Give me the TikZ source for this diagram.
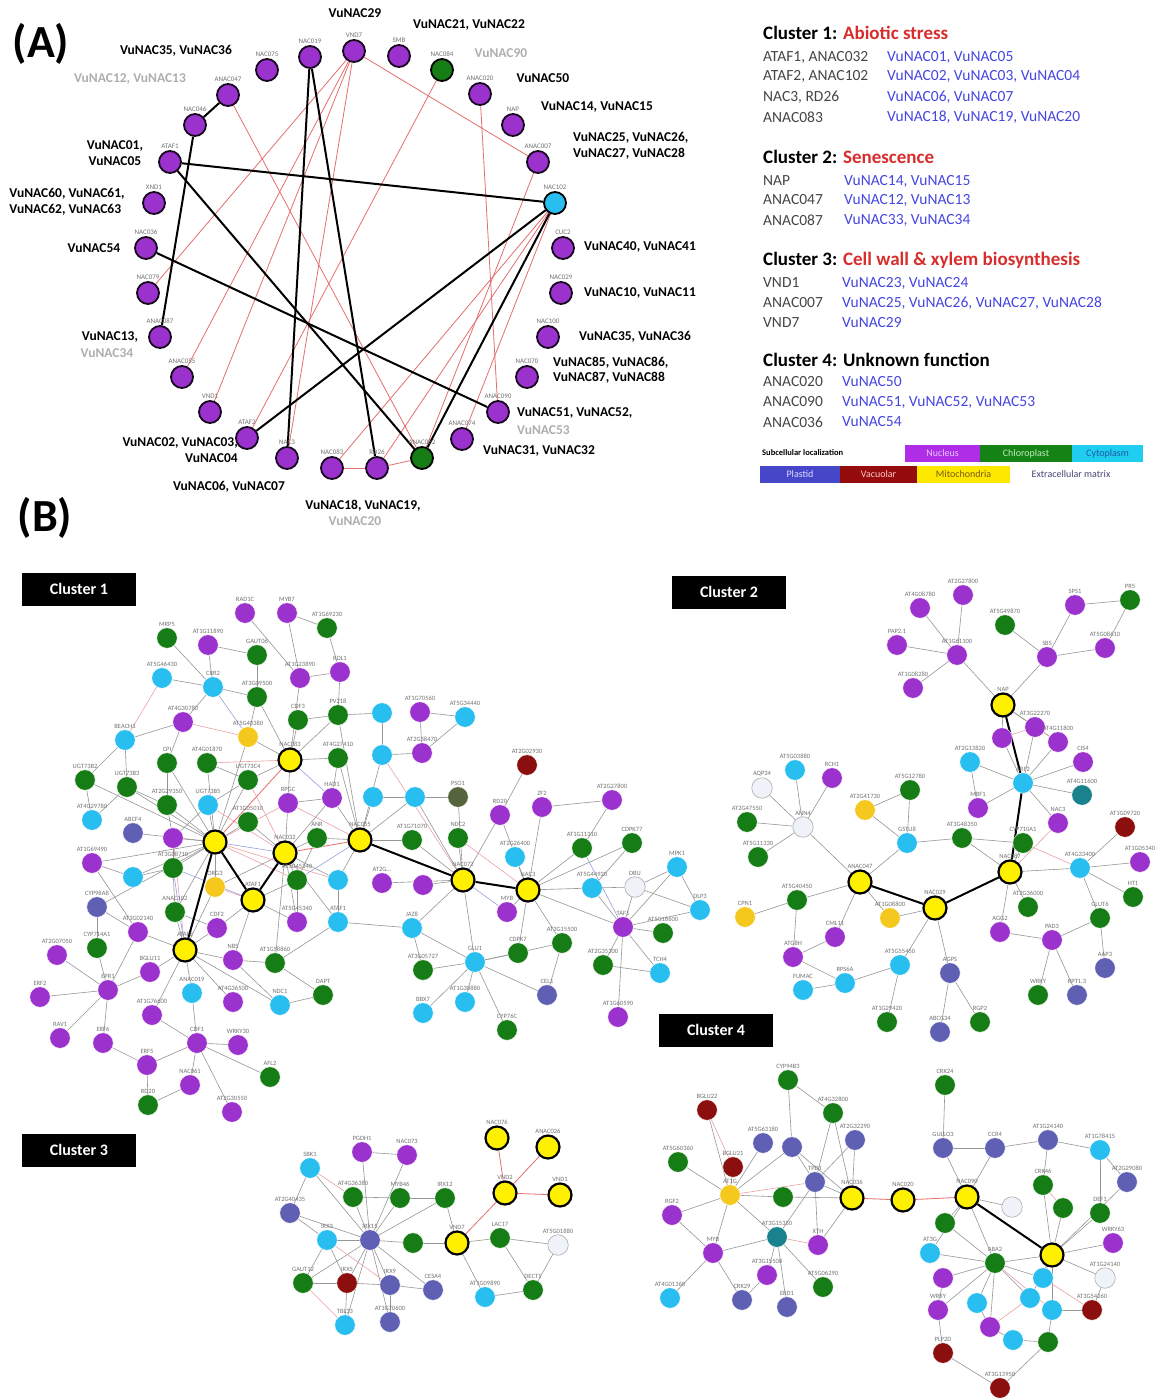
\documentclass[tikz,border=0pt]{standalone}
\usepackage{fontspec}
\setmainfont{Carlito}
\pgfdeclarelayer{bg}
\pgfdeclarelayer{edges}
\pgfsetlayers{bg,edges,main}
\definecolor{cnuc}{RGB}{155,50,205}
\definecolor{cchl}{RGB}{22,125,22}
\definecolor{ccyt}{RGB}{40,190,240}
\definecolor{cpla}{RGB}{95,95,180}
\definecolor{cvac}{RGB}{140,15,15}
\definecolor{cmit}{RGB}{245,200,30}
\definecolor{cqry}{RGB}{255,240,0}
\definecolor{cext}{RGB}{240,242,250}
\definecolor{ctea}{RGB}{25,130,140}
\definecolor{coli}{RGB}{85,100,60}
\definecolor{cblue}{RGB}{70,70,225}
\definecolor{cred}{RGB}{215,45,45}
\definecolor{credge}{RGB}{230,110,110}
\definecolor{cpink}{RGB}{235,160,165}
\definecolor{clblue}{RGB}{150,160,225}
\definecolor{clbl}{RGB}{115,115,115}
\definecolor{cgrey}{RGB}{175,175,175}
\definecolor{cedge}{RGB}{150,150,150}
\definecolor{ltext}{RGB}{70,70,70}
\tikzset{
 nd/.style={circle,inner sep=0pt,minimum size=20.5pt,draw=white,line width=0.4pt},
 nuc/.style={nd,fill=cnuc}, chl/.style={nd,fill=cchl}, cyt/.style={nd,fill=ccyt},
 pla/.style={nd,fill=cpla}, vac/.style={nd,fill=cvac}, mit/.style={nd,fill=cmit},
 ext/.style={nd,fill=cext,draw=cgrey,line width=0.6pt}, tea/.style={nd,fill=ctea}, oli/.style={nd,fill=coli},
 qry/.style={circle,inner sep=0pt,minimum size=23pt,fill=cqry,draw=black,line width=2.2pt},
 pa/.style={circle,inner sep=0pt,minimum size=22pt,draw=black!85!cnuc,line width=1.8pt},
 pnuc/.style={pa,fill=cnuc}, pchl/.style={pa,fill=cchl,draw=black}, pcyt/.style={pa,fill=ccyt,draw=black},
 lbl/.style={font=\fontsize{6.5}{7}\selectfont,text=clbl,inner sep=0.5pt},
 albl/.style={font=\fontsize{7}{8}\selectfont,text=clbl,inner sep=1pt},
 vb/.style={font=\bfseries\fontsize{13.5}{15.5}\selectfont,inner sep=0pt},
 vg/.style={vb,text=cgrey},
 ge/.style={draw=cedge,line width=0.6pt},
 pe/.style={draw=cpink,line width=0.6pt},
 lb/.style={draw=clblue,line width=0.6pt},
 re/.style={draw=credge,line width=0.8pt},
 be/.style={draw=black,line width=2pt},
 clbox/.style={fill=black,text=white,font=\bfseries\fontsize{16}{16}\selectfont,minimum width=114pt,minimum height=33pt,inner sep=0pt},
 lh/.style={anchor=west,font=\bfseries\fontsize{19}{19}\selectfont,inner sep=0pt},
 lt/.style={anchor=west,font=\fontsize{15.5}{15.5}\selectfont,text=ltext,inner sep=0pt},
 lv/.style={lt,text=cblue},
 lbox/.style={font=\fontsize{10}{10}\selectfont,inner sep=0pt,minimum height=17pt}
}
\newcommand\mkgn[5]{\node[#2,label={[lbl]90:#5}] (#1) at (#3,#4) {};}
\newcommand\mkpa[5]{\node[#2,label={[albl]90:#5}] (#1) at (#3,#4) {};}
\begin{document}
\begin{tikzpicture}[x=1pt,y=-1pt]
\begin{pgfonlayer}{bg}
\fill[white] (0,0) rectangle (1173,1399);
\end{pgfonlayer}
\useasboundingbox (0,0) rectangle (1173,1399);

% ---------- panel labels ----------
\node[font=\bfseries\fontsize{46}{46}\selectfont,inner sep=0pt] (pA) at (41,44) {(A)};
\node[font=\bfseries\fontsize{46}{46}\selectfont,inner sep=0pt] (pB) at (45,518) {(B)};

% ---------- panel A nodes ----------
\mkpa{p1}{pnuc}{310}{57}{NAC019}
\mkpa{p2}{pnuc}{354}{51}{VND7}
\mkpa{p3}{pnuc}{399}{56}{SMB}
\mkpa{p4}{pchl}{442}{70}{NAC084}
\mkpa{p5}{pnuc}{480}{94}{ANAC020}
\mkpa{p6}{pnuc}{513}{125}{NAP}
\mkpa{p7}{pnuc}{538}{162}{ANAC007}
\mkpa{p8}{pcyt}{555}{203}{NAC102}
\mkpa{p9}{pnuc}{563}{248}{CUC2}
\mkpa{p10}{pnuc}{561}{293}{NAC029}
\mkpa{p11}{pnuc}{548}{337}{NAC100}
\mkpa{p12}{pnuc}{527}{377}{NAC070}
\mkpa{p13}{pnuc}{498}{412}{ANAC090}
\mkpa{p14}{pnuc}{462}{439}{ANAC074}
\mkpa{p15}{pchl}{422}{458}{ANAC082}
\mkpa{p16}{pnuc}{377}{468}{RD26}
\mkpa{p17}{pnuc}{332}{468}{NAC083}
\mkpa{p18}{pnuc}{287}{458}{NAC3}
\mkpa{p19}{pnuc}{247}{438}{ATAF2}
\mkpa{p20}{pnuc}{210}{412}{VND1}
\mkpa{p21}{pnuc}{182}{377}{ANAC055}
\mkpa{p22}{pnuc}{160}{337}{ANAC087}
\mkpa{p23}{pnuc}{148}{293}{NAC079}
\mkpa{p24}{pnuc}{146}{248}{NAC036}
\mkpa{p25}{pnuc}{154}{203}{XND1}
\mkpa{p26}{pnuc}{170}{162}{ATAF1}
\mkpa{p27}{pnuc}{195}{125}{NAC046}
\mkpa{p28}{pnuc}{228}{95}{ANAC047}
\mkpa{p29}{pnuc}{267}{70}{NAC075}

\begin{pgfonlayer}{edges}
\foreach \a/\b in {p2/p7,p2/p23,p2/p20,p2/p21,p2/p18,p19/p4,p17/p16,p16/p15,p28/p15,p5/p13,p7/p15,p17/p8,p16/p8,p14/p8}
  \draw[re] (\a) -- (\b);
\foreach \a/\b in {p26/p8,p26/p15,p27/p22,p27/p28,p1/p18,p1/p16,p24/p13,p19/p8,p15/p8}
  \draw[be] (\a) -- (\b);
\end{pgfonlayer}

% ---------- panel A gene labels ----------
\node[vb] (t1) at (176,51) {VuNAC35, VuNAC36};
\node[vg] (t2) at (130,79) {VuNAC12, VuNAC13};
\node[vb,align=center] (t3) at (115,153) {VuNAC01,\\VuNAC05};
\node[vb,align=left] (t4) at (67,202) {VuNAC60, VuNAC61,\\VuNAC62, VuNAC63};
\node[vb] (t5) at (94,248) {VuNAC54};
\node[vb] (t6) at (110,337) {VuNAC13,};
\node[vg] (t6b) at (107,353) {VuNAC34};
\node[vb,align=right,anchor=east] (t7) at (238,450) {VuNAC02, VuNAC03,\\VuNAC04};
\node[vb] (t8) at (229,487) {VuNAC06, VuNAC07};
\node[vb] (t9) at (363,506) {VuNAC18, VuNAC19,};
\node[vg] (t9b) at (355,521) {VuNAC20};
\node[vb] (t10) at (539,451) {VuNAC31, VuNAC32};
\node[vb,anchor=west] (t11) at (517,413) {VuNAC51, VuNAC52,};
\node[vg,anchor=west] (t11b) at (517,430) {VuNAC53};
\node[vb,align=left,anchor=west] (t12) at (553,370) {VuNAC85, VuNAC86,\\VuNAC87, VuNAC88};
\node[vb] (t13) at (635,337) {VuNAC35, VuNAC36};
\node[vb] (t14) at (640,293) {VuNAC10, VuNAC11};
\node[vb] (t15) at (640,247) {VuNAC40, VuNAC41};
\node[vb,align=left,anchor=west] (t16) at (573,146) {VuNAC25, VuNAC26,\\VuNAC27, VuNAC28};
\node[vb] (t17) at (597,107) {VuNAC14, VuNAC15};
\node[vb] (t18) at (543,78) {VuNAC50};
\node[vg] (t19) at (501,53) {VuNAC90};
\node[vb] (t20) at (469,25) {VuNAC21, VuNAC22};
\node[vb] (t21) at (355,13) {VuNAC29};

% ---------- legend ----------
\node[lh] (h1) at (763,33) {Cluster 1: \textcolor{cred}{Abiotic stress}};
\node[lt] (l11) at (763,57) {ATAF1, ANAC032};  \node[lv] (v11) at (887,57) {VuNAC01, VuNAC05};
\node[lt] (l12) at (763,76) {ATAF2, ANAC102};  \node[lv] (v12) at (887,76) {VuNAC02, VuNAC03, VuNAC04};
\node[lt] (l13) at (763,97) {NAC3, RD26};      \node[lv] (v13) at (887,97) {VuNAC06, VuNAC07};
\node[lt] (l14) at (763,117) {ANAC083};        \node[lv] (v14) at (887,117) {VuNAC18, VuNAC19, VuNAC20};
\node[lh] (h2) at (763,157) {Cluster 2: \textcolor{cred}{Senescence}};
\node[lt] (l21) at (763,181) {NAP};            \node[lv] (v21) at (844,181) {VuNAC14, VuNAC15};
\node[lt] (l22) at (763,200) {ANAC047};        \node[lv] (v22) at (844,200) {VuNAC12, VuNAC13};
\node[lt] (l23) at (763,220) {ANAC087};        \node[lv] (v23) at (844,220) {VuNAC33, VuNAC34};
\node[lh] (h3) at (763,260) {Cluster 3: \textcolor{cred}{Cell wall \& xylem biosynthesis}};
\node[lt] (l31) at (763,283) {VND1};           \node[lv] (v31) at (842,283) {VuNAC23, VuNAC24};
\node[lt] (l32) at (763,303) {ANAC007};        \node[lv] (v32) at (842,303) {VuNAC25, VuNAC26, VuNAC27, VuNAC28};
\node[lt] (l33) at (763,323) {VND7};           \node[lv] (v33) at (842,323) {VuNAC29};
\node[lh] (h4) at (763,360) {Cluster 4: Unknown function};
\node[lt] (l41) at (763,382) {ANAC020};        \node[lv] (v41) at (842,382) {VuNAC50};
\node[lt] (l42) at (763,402) {ANAC090};        \node[lv] (v42) at (842,402) {VuNAC51, VuNAC52, VuNAC53};
\node[lt] (l43) at (763,422) {ANAC036};        \node[lv] (v43) at (842,422) {VuNAC54};
\node[anchor=west,font=\bfseries\fontsize{8.5}{8.5}\selectfont,inner sep=0pt] (sl) at (762,453) {Subcellular localization};
\node[lbox,fill={rgb,255:red,175;green,45;blue,230},text={rgb,255:red,230;green,200;blue,255},minimum width=75pt] (bx1) at (942.5,453.5) {Nucleus};
\node[lbox,fill={rgb,255:red,20;green,130;blue,20},text={rgb,255:red,190;green,235;blue,190},minimum width=92pt] (bx2) at (1026,453.5) {Chloroplast};
\node[lbox,fill={rgb,255:red,30;green,205;blue,240},text={rgb,255:red,30;green,90;blue,160},minimum width=71pt] (bx3) at (1107.5,453.5) {Cytoplasm};
\node[lbox,fill={rgb,255:red,70;green,70;blue,200},text={rgb,255:red,220;green,220;blue,255},minimum width=80pt] (bx4) at (800,474) {Plastid};
\node[lbox,fill={rgb,255:red,150;green,12;blue,12},text={rgb,255:red,255;green,200;blue,200},minimum width=77pt] (bx5) at (878.5,474) {Vacuolar};
\node[lbox,fill={rgb,255:red,255;green,232;blue,0},text={rgb,255:red,120;green,90;blue,20},minimum width=93pt] (bx6) at (963.5,474) {Mitochondria};
\node[lbox,text={rgb,255:red,70;green,70;blue,120}] (bx7) at (1071,474) {Extracellular matrix};

% ---------- cluster boxes ----------
\node[clbox] (k1) at (79,589) {Cluster 1};
\node[clbox] (k2) at (729,592) {Cluster 2};
\node[clbox] (k4) at (716,1030) {Cluster 4};
\node[clbox] (k3) at (79,1150) {Cluster 3};

% ---------- cluster 1 ----------
\mkgn{a1}{nuc}{245}{613}{RAD1C}
\mkgn{a2}{nuc}{287}{613}{MYB7}
\mkgn{a3}{chl}{327}{628}{AT1G69230}
\mkgn{a4}{chl}{167}{638}{MRP5}
\mkgn{a5}{nuc}{208}{645}{AT1G11890}
\mkgn{a6}{chl}{257}{655}{GAUT06}
\mkgn{a7}{cyt}{162}{678}{AT5G46430}
\mkgn{a8}{cyt}{213}{687}{CRR2}
\mkgn{a9}{nuc}{300}{678}{AT1G23890}
\mkgn{a10}{nuc}{340}{672}{RDL1}
\mkgn{a11}{chl}{257}{697}{AT3G09500}
\mkgn{a12}{nuc}{183}{722}{AT4G30780}
\mkgn{a13}{cyt}{125}{740}{BEACH1}
\mkgn{a14}{mit}{248}{737}{AT5G40380}
\mkgn{a15}{chl}{298}{720}{CDF3}
\mkgn{a16}{chl}{338}{715}{PV218}
\mkgn{a17}{qry}{290}{760}{NAC083}
\mkgn{a18}{chl}{338}{758}{AT4G27410}
\mkgn{a19}{chl}{167}{763}{CPI}
\mkgn{a20}{chl}{207}{763}{AT4G01870}
\mkgn{a21}{chl}{85}{780}{UGT73B2}
\mkgn{a22}{chl}{127}{787}{UGT73B3}
\mkgn{a23}{chl}{248}{780}{UGT73C4}
\mkgn{a24}{chl}{167}{805}{AT2G29350}
\mkgn{a25}{cyt}{208}{805}{UGT73B5}
\mkgn{a26}{nuc}{288}{803}{RPGC}
\mkgn{a27}{nuc}{332}{798}{HAD1}
\mkgn{a28}{cyt}{92}{820}{AT4G29780}
\mkgn{a29}{pla}{133}{833}{ABCF4}
\mkgn{a30}{chl}{248}{822}{AT1G05010}
\mkgn{a31}{nuc}{173}{838}{}
\mkgn{a32}{chl}{317}{838}{ANR}
\mkgn{a33}{qry}{215}{842}{}
\mkgn{a34}{qry}{285}{853}{NAC032}
\mkgn{a35}{qry}{360}{840}{NAC055}
\mkgn{a36}{nuc}{92}{863}{AT1G69490}
\mkgn{a37}{cyt}{133}{877}{}
\mkgn{a38}{chl}{173}{868}{AT3G08710}
\mkgn{a39}{mit}{215}{887}{ORG3}
\mkgn{a40}{chl}{297}{880}{AT5G45340}
\mkgn{a41}{cyt}{338}{880}{}
\mkgn{a42}{pla}{97}{907}{CYP98A8}
\mkgn{a43}{chl}{175}{912}{ANAC102}
\mkgn{a44}{qry}{253}{900}{ATAF1}
\mkgn{a45}{nuc}{217}{928}{CDF2}
\mkgn{a46}{nuc}{297}{922}{AT5G45340}
\mkgn{a47}{cyt}{338}{922}{ATAF1}
\mkgn{a48}{nuc}{138}{932}{AT3G02140}
\mkgn{a49}{chl}{97}{948}{CYP714A1}
\mkgn{a50}{nuc}{57}{955}{AT2G07050}
\mkgn{a51}{qry}{185}{950}{ATAF2}
\mkgn{a52}{nuc}{233}{960}{NBS}
\mkgn{a53}{chl}{275}{963}{AT1G58860}
\mkgn{a54}{nuc}{150}{972}{BGLU11}
\mkgn{a55}{nuc}{108}{990}{EPR1}
\mkgn{a56}{nuc}{40}{997}{ERF2}
\mkgn{a57}{cyt}{192}{993}{ANAC019}
\mkgn{a58}{nuc}{233}{1002}{AT4G36500}
\mkgn{a59}{cyt}{280}{1005}{NDC1}
\mkgn{a60}{chl}{323}{995}{DAPT}
\mkgn{a61}{nuc}{152}{1015}{AT1G76600}
\mkgn{a62}{nuc}{60}{1038}{RAV1}
\mkgn{a63}{nuc}{103}{1043}{ERF6}
\mkgn{a64}{nuc}{197}{1043}{CDF1}
\mkgn{a65}{nuc}{238}{1045}{WRKY30}
\mkgn{a66}{nuc}{147}{1065}{ERF5}
\mkgn{a67}{nuc}{190}{1085}{NAC061}
\mkgn{a68}{chl}{270}{1077}{AFL2}
\mkgn{a69}{chl}{148}{1105}{RD20}
\mkgn{a70}{nuc}{232}{1112}{AT2G30550}
\mkgn{b1}{cyt}{382}{713}{}
\mkgn{b2}{nuc}{420}{712}{AT1G70560}
\mkgn{b3}{cyt}{465}{717}{AT5G34440}
\mkgn{b4}{cyt}{382}{755}{}
\mkgn{b5}{nuc}{422}{753}{AT2G38470}
\mkgn{b6}{cyt}{373}{797}{}
\mkgn{b7}{cyt}{415}{797}{}
\mkgn{b8}{oli}{458}{797}{PSO1}
\mkgn{b9}{vac}{527}{765}{AT2G02930}
\mkgn{b10}{nuc}{500}{815}{RD20}
\mkgn{b11}{nuc}{542}{807}{ZF2}
\mkgn{b12}{nuc}{612}{800}{AT2G27800}
\mkgn{b13}{chl}{412}{840}{AT1G71070}
\mkgn{b14}{chl}{458}{838}{NDC2}
\mkgn{b15}{cyt}{515}{857}{AT2G26400}
\mkgn{b16}{chl}{582}{848}{AT1G11310}
\mkgn{b17}{chl}{632}{843}{CDPK77}
\mkgn{b18}{cyt}{677}{867}{MPK1}
\mkgn{b19}{ext}{635}{887}{DBU}
\mkgn{b20}{cyt}{700}{910}{DLP3}
\mkgn{b21}{nuc}{382}{883}{AT2G...}
\mkgn{b22}{nuc}{423}{885}{}
\mkgn{b23}{qry}{463}{880}{NAC072}
\mkgn{b24}{qry}{528}{890}{NAC3}
\mkgn{b25}{cyt}{592}{888}{AT5G44920}
\mkgn{b26}{nuc}{507}{912}{MYB}
\mkgn{b27}{nuc}{623}{927}{TAF1}
\mkgn{b28}{chl}{663}{933}{AT5G18600}
\mkgn{b29}{cyt}{412}{928}{JAZ8}
\mkgn{b30}{chl}{562}{943}{AT3G15500}
\mkgn{b31}{chl}{518}{953}{CDPK7}
\mkgn{b32}{cyt}{475}{962}{GLU1}
\mkgn{b33}{chl}{423}{970}{AT3G05727}
\mkgn{b34}{chl}{603}{965}{AT2G35300}
\mkgn{b35}{cyt}{660}{973}{TCH4}
\mkgn{b36}{pla}{547}{995}{CEL1}
\mkgn{b37}{cyt}{465}{1002}{AT1G30880}
\mkgn{b38}{cyt}{423}{1013}{BBX7}
\mkgn{b39}{nuc}{618}{1017}{AT1G60590}
\mkgn{b40}{chl}{507}{1030}{CYP76C}

\begin{pgfonlayer}{edges}
\foreach \a/\b in {a1/a9,a2/a9,a2/a3,a3/a10,a9/a10,a4/a8,a5/a8,a7/a8,a5/a6,a6/a11,a8/a12,a8/a11,a12/a13,a12/a19,a13/a22,a11/a14,a9/a17,a10/a16,a15/a17,a14/a17,a16/a17,a17/a18,a17/a26,a17/a23,a11/a17,a15/a16,a13/a21,
 a33/a19,a33/a20,a33/a23,a33/a24,a33/a25,a33/a30,a33/a31,a33/a38,a33/a39,a33/a43,a33/a22,a33/a21,a33/a14,a33/a29,a33/a37,a33/a36,a33/a42,
 a34/a26,a34/a27,a34/a32,a34/a40,a34/a41,a34/a47,a34/a46,a34/a30,a34/a39,a34/a53,
 a35/a18,a35/a32,a35/b6,a35/b7,a35/b13,a35/a16,a35/a27,a35/b4,a35/a41,
 b1/b4,b2/b5,b3/b5,b1/a16,b4/b5,b2/b3,b6/b7,b7/b8,
 a51/a54,a51/a57,a51/a52,a51/a58,a51/a59,a51/a61,a51/a43,a51/a45,a51/a48,a51/a39,
 a55/a56,a55/a62,a55/a63,a55/a54,a55/a48,a55/a50,a55/a49,
 a64/a65,a64/a66,a64/a67,a64/a68,a64/a70,a64/a57,a64/a61,
 a66/a63,a66/a69,a67/a69,a52/a53,a53/a60,a59/a60,a52/a59,a44/a46,a44/a45,a44/a52,a44/a40,a42/a49,a28/a21,a28/a22,a36/a37,a37/a38,a45/a43,a47/a53,
 b23/b14,b23/b10,b23/b22,b23/b29,b23/b32,b23/b21,b23/b7,b23/b8,b23/b13,
 b24/b15,b24/b16,b24/b17,b24/b25,b24/b26,b24/b27,b24/b30,b24/b11,b24/b10,b24/b31,
 b32/b29,b32/b33,b32/b37,b32/b38,b32/b36,b32/b31,b32/b40,b32/b30,
 b27/b19,b27/b20,b27/b18,b27/b28,b27/b35,b27/b34,b27/b39,b27/b25,
 b10/b9,b11/b12,b18/b19,b18/b20,b19/b20,b12/b16,b29/a47,b29/b33,b34/b35,b36/b30,b17/b25,b25/b19,
 a23/a25,a25/a31,a24/a31,a19/a24,a22/a24,a26/a27,a18/a27,a20/a23,a38/a43,a31/a38,a40/a46,a41/a47,a32/a40,a36/a48,a42/a48}
  \draw[ge] (\a) -- (\b);
\foreach \a/\b in {a33/a26,a34/a23,a33/a40,a34/a25,a17/a20,a35/a26,a51/a31,a44/a39,a33/a41,b23/b4,b24/b14,a12/a14,a7/a13}
  \draw[pe] (\a) -- (\b);
\foreach \a/\b in {a33/a34,a35/a40,a44/a38,b23/b26,a17/a27,a51/a38,a8/a14,b27/b16}
  \draw[lb] (\a) -- (\b);
\foreach \a/\b in {a17/a33,a34/a35} \draw[re] (\a) -- (\b);
\foreach \a/\b in {a33/a51,a33/a44,a44/a34,a35/b23,b23/b24} \draw[be] (\a) -- (\b);
\end{pgfonlayer}

% ---------- cluster 2 ----------
\mkgn{c1}{nuc}{963}{595}{AT2G27800}
\mkgn{c2}{nuc}{920}{608}{AT4G08780}
\mkgn{c3}{chl}{1005}{625}{AT5G49870}
\mkgn{c4}{nuc}{1075}{605}{SPS1}
\mkgn{c5}{chl}{1130}{600}{PR5}
\mkgn{c6}{nuc}{897}{645}{PAP2.1}
\mkgn{c7}{nuc}{957}{655}{AT1G61100}
\mkgn{c8}{nuc}{1047}{657}{SBS}
\mkgn{c9}{nuc}{1105}{648}{AT5G08610}
\mkgn{c10}{nuc}{913}{688}{AT1G08280}
\mkgn{c11}{qry}{1003}{705}{NAP}
\mkgn{c12}{nuc}{1002}{738}{}
\mkgn{c13}{nuc}{1035}{727}{AT3G22270}
\mkgn{c14}{nuc}{1058}{742}{AT4G11800}
\mkgn{c15}{cyt}{970}{762}{AT2G13820}
\mkgn{c16}{nuc}{1083}{762}{CIS4}
\mkgn{c17}{cyt}{1023}{783}{ARF2}
\mkgn{c18}{tea}{1082}{795}{AT4G11600}
\mkgn{c19}{nuc}{978}{808}{MBF1}
\mkgn{c20}{nuc}{1058}{823}{NAC3}
\mkgn{c21}{vac}{1125}{827}{AT1G09720}
\mkgn{c22}{chl}{1023}{843}{CYP710A1}
\mkgn{c23}{chl}{962}{838}{AT3G48350}
\mkgn{c24}{cyt}{907}{843}{GSTU8}
\mkgn{c25}{mit}{865}{810}{AT2G41730}
\mkgn{c26}{chl}{910}{790}{AT5G12780}
\mkgn{c27}{ext}{803}{827}{ANN4}
\mkgn{c28}{cyt}{795}{770}{AT5G03880}
\mkgn{c29}{nuc}{832}{778}{RCH1}
\mkgn{c30}{ext}{762}{788}{AQP34}
\mkgn{c31}{chl}{747}{822}{AT2G47550}
\mkgn{c32}{chl}{758}{857}{AT5G11330}
\mkgn{c33}{qry}{860}{882}{ANAC047}
\mkgn{c34}{qry}{935}{908}{NAC029}
\mkgn{c35}{qry}{1010}{872}{NAC087}
\mkgn{c36}{cyt}{1080}{868}{AT4G33400}
\mkgn{c37}{nuc}{1140}{862}{AT1G05340}
\mkgn{c38}{chl}{1133}{897}{HT1}
\mkgn{c39}{chl}{797}{900}{AT5G40450}
\mkgn{c40}{mit}{745}{917}{CPN1}
\mkgn{c41}{mit}{890}{918}{AT1G08800}
\mkgn{c42}{nuc}{835}{937}{CML11}
\mkgn{c43}{chl}{1028}{907}{AT2G36000}
\mkgn{c44}{nuc}{1000}{932}{AGG2}
\mkgn{c45}{chl}{1100}{918}{GLUT6}
\mkgn{c46}{nuc}{1052}{940}{PAD3}
\mkgn{c47}{nuc}{793}{957}{ATG8H}
\mkgn{c48}{cyt}{900}{965}{AT5G55450}
\mkgn{c49}{pla}{950}{973}{AGPS}
\mkgn{c50}{cyt}{845}{983}{RPS6A}
\mkgn{c51}{cyt}{803}{990}{FUMAC}
\mkgn{c52}{pla}{1105}{968}{AAP3}
\mkgn{c53}{chl}{1038}{995}{WRKY}
\mkgn{c54}{pla}{1077}{995}{RPT1.3}
\mkgn{c55}{chl}{887}{1022}{AT1G29420}
\mkgn{c56}{pla}{940}{1032}{ABCG34}
\mkgn{c57}{chl}{980}{1022}{RGP2}

\begin{pgfonlayer}{edges}
\foreach \a/\b in {c2/c7,c1/c7,c6/c7,c10/c7,c3/c8,c4/c8,c4/c5,c9/c5,c9/c8,c7/c11,c8/c11,c11/c12,c11/c13,c11/c14,
 c17/c12,c17/c13,c17/c14,c17/c15,c17/c16,c17/c18,c17/c19,c17/c20,c15/c19,
 c35/c22,c35/c36,c35/c43,c35/c44,c35/c23,c36/c21,c36/c37,c36/c38,c36/c45,c45/c46,c46/c44,c46/c53,c46/c54,c45/c52,
 c34/c48,c34/c49,c34/c41,c49/c56,c49/c57,c48/c55,c48/c50,c50/c51,c50/c47,
 c33/c42,c33/c39,c33/c41,c33/c27,c33/c24,c39/c40,c39/c47,c42/c47,
 c27/c28,c27/c29,c27/c30,c27/c31,c27/c32,c24/c26,c24/c25,c24/c23,c23/c22,c26/c25}
  \draw[ge] (\a) -- (\b);
\foreach \a/\b in {c12/c13,c13/c14,c22/c36,c35/c20} \draw[pe] (\a) -- (\b);
\foreach \a/\b in {c11/c17,c17/c35,c33/c34,c34/c35} \draw[be] (\a) -- (\b);
\end{pgfonlayer}

% ---------- cluster 3 ----------
\mkgn{d1}{qry}{497}{1138}{NAC076}
\mkgn{d2}{qry}{548}{1147}{ANAC026}
\mkgn{d3}{qry}{505}{1193}{VND2}
\mkgn{d4}{qry}{560}{1195}{VND1}
\mkgn{d5}{qry}{457}{1243}{VND7}
\mkgn{d6}{chl}{500}{1238}{LAC17}
\mkgn{d7}{ext}{558}{1245}{AT5G01880}
\mkgn{d8}{cyt}{485}{1297}{AT1G09890}
\mkgn{d9}{chl}{533}{1290}{DECT1}
\mkgn{d10}{nuc}{362}{1152}{PGDH1}
\mkgn{d11}{nuc}{407}{1155}{NAC073}
\mkgn{d12}{cyt}{310}{1168}{SBK1}
\mkgn{d13}{chl}{353}{1197}{AT4G36380}
\mkgn{d14}{chl}{400}{1198}{MYB46}
\mkgn{d15}{chl}{445}{1198}{IRX12}
\mkgn{d16}{pla}{290}{1213}{AT2G40435}
\mkgn{d17}{cyt}{327}{1240}{IRX3}
\mkgn{d18}{pla}{370}{1240}{IRX15}
\mkgn{d19}{chl}{413}{1243}{}
\mkgn{d20}{chl}{303}{1283}{GAUT12}
\mkgn{d21}{vac}{347}{1283}{IRX5}
\mkgn{d22}{pla}{390}{1285}{IRX9}
\mkgn{d23}{pla}{433}{1290}{CESA4}
\mkgn{d24}{cyt}{345}{1325}{TBL33}
\mkgn{d25}{pla}{390}{1322}{AT1G70600}

\begin{pgfonlayer}{edges}
\foreach \a/\b in {d5/d6,d5/d19,d5/d8,d5/d15,d6/d7,d6/d9,d7/d9,d8/d9,
 d18/d10,d18/d11,d18/d12,d18/d13,d18/d14,d18/d15,d18/d16,d18/d17,d18/d19,d18/d20,d18/d21,d18/d22,d18/d23,d18/d24,d18/d25,
 d10/d11,d12/d16,d16/d17,d17/d20,d20/d21,d21/d22,d22/d23,d22/d25,d21/d24,d17/d21,d13/d14,d14/d15}
  \draw[ge] (\a) -- (\b);
\foreach \a/\b in {d17/d22,d12/d13,d20/d24} \draw[pe] (\a) -- (\b);
\foreach \a/\b in {d1/d3,d2/d3,d3/d4,d3/d5} \draw[re] (\a) -- (\b);
\end{pgfonlayer}

% ---------- cluster 4 ----------
\mkgn{e1}{chl}{788}{1080}{CYP94B3}
\mkgn{e2}{vac}{707}{1110}{BGLU22}
\mkgn{e3}{chl}{833}{1113}{AT4G32800}
\mkgn{e4}{pla}{763}{1143}{AT5G63180}
\mkgn{e5}{pla}{792}{1147}{}
\mkgn{e6}{pla}{855}{1140}{AT2G32290}
\mkgn{e7}{chl}{678}{1162}{AT5G60360}
\mkgn{e8}{vac}{733}{1167}{BGLU21}
\mkgn{e9}{mit}{730}{1195}{AT1G}
\mkgn{e10}{chl}{783}{1197}{}
\mkgn{e11}{pla}{815}{1182}{TPD1}
\mkgn{e12}{qry}{852}{1198}{NAC036}
\mkgn{e13}{qry}{903}{1200}{NAC020}
\mkgn{e14}{qry}{967}{1197}{NAC090}
\mkgn{e15}{qry}{1052}{1255}{}
\mkgn{e16}{nuc}{672}{1215}{RGF2}
\mkgn{e17}{tea}{777}{1237}{AT3G15350}
\mkgn{e18}{nuc}{818}{1245}{XTH}
\mkgn{e19}{nuc}{713}{1253}{MYB}
\mkgn{e20}{nuc}{767}{1275}{AT3G15500}
\mkgn{e21}{chl}{823}{1287}{AT5G06290}
\mkgn{e22}{cyt}{670}{1298}{AT4G01360}
\mkgn{e23}{pla}{742}{1300}{CRK29}
\mkgn{e24}{pla}{787}{1307}{ERD1}
\mkgn{e25}{chl}{945}{1085}{CRK24}
\mkgn{e26}{pla}{943}{1148}{GULLO3}
\mkgn{e27}{pla}{995}{1148}{CCR4}
\mkgn{e28}{pla}{1048}{1140}{AT1G24140}
\mkgn{e29}{cyt}{1100}{1150}{AT1G78415}
\mkgn{e30}{pla}{1127}{1182}{AT2G29080}
\mkgn{e31}{chl}{1043}{1185}{CRK46}
\mkgn{e32}{ext}{1012}{1207}{}
\mkgn{e33}{chl}{1063}{1208}{}
\mkgn{e34}{chl}{1100}{1213}{DEF1}
\mkgn{e35}{nuc}{1113}{1243}{WRKY63}
\mkgn{e36}{chl}{945}{1223}{}
\mkgn{e37}{cyt}{930}{1253}{AT3G}
\mkgn{e38}{chl}{995}{1263}{ABA2}
\mkgn{e39}{cyt}{1043}{1278}{}
\mkgn{e40}{ext}{1105}{1278}{AT1G24140}
\mkgn{e41}{nuc}{943}{1278}{}
\mkgn{e42}{cyt}{977}{1303}{}
\mkgn{e43}{cyt}{1030}{1298}{}
\mkgn{e44}{cyt}{1052}{1310}{}
\mkgn{e45}{vac}{1092}{1310}{AT3G54260}
\mkgn{e46}{nuc}{938}{1310}{WRKY}
\mkgn{e47}{nuc}{990}{1327}{}
\mkgn{e48}{cyt}{1013}{1340}{}
\mkgn{e49}{chl}{1048}{1342}{}
\mkgn{e50}{vac}{943}{1353}{PLP2D}
\mkgn{e51}{vac}{1000}{1388}{AT3G13950}

\begin{pgfonlayer}{edges}
\foreach \a/\b in {e12/e11,e12/e6,e12/e3,e12/e18,e12/e5,e12/e10,
 e9/e2,e9/e7,e9/e8,e9/e10,e9/e16,e9/e19,e9/e4,e9/e5,e9/e17,
 e11/e5,e11/e3,e11/e6,e11/e17,e11/e18,e1/e5,e1/e3,
 e17/e20,e17/e21,e17/e24,e17/e19,e19/e22,e19/e23,e19/e16,e20/e23,
 e14/e26,e14/e27,e14/e36,e14/e38,e14/e37,e14/e32,
 e25/e26,e26/e27,e27/e28,e28/e29,e28/e31,e29/e30,e29/e34,
 e15/e31,e15/e33,e15/e34,e15/e35,e15/e38,e15/e39,e15/e40,e15/e43,e15/e44,e15/e30,
 e38/e36,e38/e37,e38/e41,e38/e42,e38/e43,e38/e46,e38/e47,e38/e39,
 e44/e45,e44/e49,e48/e47,e48/e49,e46/e50,e50/e51,e51/e49,e45/e40,e42/e47,e41/e46}
  \draw[ge] (\a) -- (\b);
\foreach \a/\b in {e9/e11,e8/e2,e17/e18,e38/e44,e43/e47,e39/e45,e31/e33} \draw[pe] (\a) -- (\b);
\foreach \a/\b in {e12/e13,e13/e14} \draw[re] (\a) -- (\b);
\draw[be] (e14) -- (e15);
\end{pgfonlayer}

\end{tikzpicture}
\end{document}
